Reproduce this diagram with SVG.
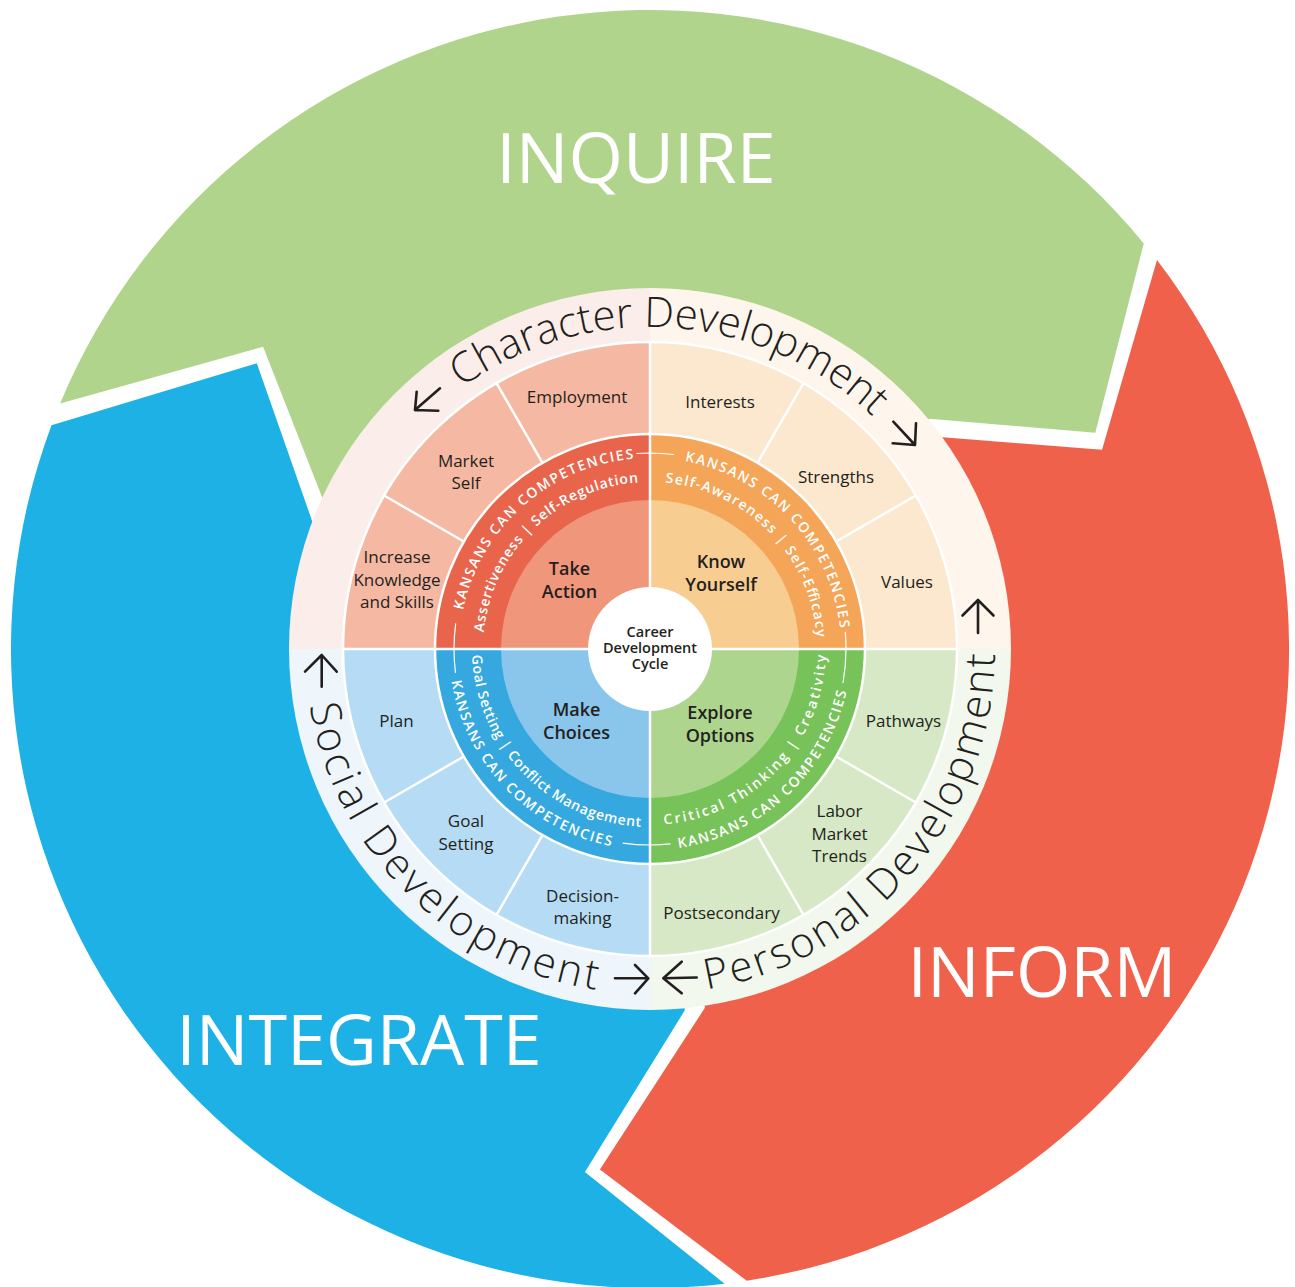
<svg xmlns="http://www.w3.org/2000/svg" width="1295" height="1287" viewBox="0 0 1295 1287">
<style>
text{font-family:"Open Sans","Noto Sans","Liberation Sans",sans-serif}
.big{font-size:70px;fill:#fff;text-anchor:middle}
.seg{font-size:17px;fill:#231F20;text-anchor:middle}
.hub{font-size:18px;font-weight:600;fill:#231F20;text-anchor:middle}
.core{font-size:14.5px;font-weight:600;fill:#231F20;text-anchor:middle}
.ring{font-size:42px;font-weight:300;fill:#231F20;text-anchor:middle}
.comp{font-size:14px;font-weight:600;fill:#fff;text-anchor:middle}
.div{stroke:#fff;stroke-width:2.5;fill:none}
.thin{stroke:#fff;stroke-width:1.2;fill:none}
.arr{stroke:#231F20;stroke-width:2.6;fill:none;stroke-linecap:round;stroke-linejoin:round}
</style>
<defs>
<path id="pChar" d="M383.05,468.94 A322,322 0 0 1 939.41,507.84"/>
<path id="pSocial" d="M316.45,560.87 A345,345 0 0 0 740.46,981.93"/>
<path id="pPersonal" d="M585.94,988.0 A345,345 0 0 0 975.61,534.97"/>
<path id="oTL" d="M462.9,687.4 A191,191 0 0 1 710.3,467.8"/>
<path id="oTR" d="M607.4,462.8 A191,191 0 0 1 832.6,705.2"/>
<path id="oBR" d="M591.2,841.2 A201,201 0 0 0 845.8,603.8"/>
<path id="oBL" d="M456.8,593.6 A201,201 0 0 0 698.6,844.0"/>
<path id="iTL" d="M488.1,690.0 A167,167 0 0 1 695.5,488.3"/>
<path id="iTR" d="M608.5,487.2 A167,167 0 0 1 810.8,693.9"/>
<path id="iBL" d="M478.5,601.4 A178,178 0 0 0 694.6,821.3"/>
<path id="iBR" d="M608.3,820.0 A176,176 0 0 0 818.9,599.6"/>
</defs>

<g id="inquire">
<path fill="#B0D48B" d="M60.1,403.4 A639,639 0 0 1 1143.8,243.4 L1095.3,432.8 L929.4,418.7 L920.1,426.3 A350,350 0 0 0 331.5,503.9 L323.3,500.2 L263.1,346.7 Z"/>
<text class="big" x="636" y="183">INQUIRE</text>
</g>
<g id="inform">
<path fill="#F0614C" d="M1157.0,260.0 A639,639 0 0 1 746.7,1280.7 L599.9,1169.6 L704.9,1007.8 L703.0,995.0 A350,350 0 0 0 932.4,442.3 L939.7,437.0 L1102.0,449.7 Z"/>
<text class="big" x="1042" y="997">INFORM</text>
</g>
<g id="integrate">
<path fill="#1EB1E6" d="M724.6,1283.7 A639,639 0 0 1 51.5,425.2 L256.8,363.3 L312.8,522.9 L322.2,526.4 A350,350 0 0 0 683.5,997.4 L684.8,1010.3 L584.9,1171.9 Z"/>
<text class="big" x="359" y="1065">INTEGRATE</text>
</g>

<g id="take-action">
<path fill="#FBEEEA" d="M650,649 L289,649 A361,361 0 0 1 650,288 Z"/>
<path fill="#F5B8A2" d="M650,649 L343,649 A307,307 0 0 1 650,342 Z"/>
<path fill="#E8654C" d="M650,649 L435,649 A215,215 0 0 1 650,434 Z"/>
<path fill="#F0967B" d="M650,649 L501,649 A149,149 0 0 1 650,500 Z"/>
</g>
<g id="know-yourself">
<path fill="#FEF6EC" d="M650,649 L650,288 A361,361 0 0 1 1011,649 Z"/>
<path fill="#FBE8CE" d="M650,649 L650,342 A307,307 0 0 1 957,649 Z"/>
<path fill="#F4A557" d="M650,649 L650,434 A215,215 0 0 1 865,649 Z"/>
<path fill="#F8CD92" d="M650,649 L650,500 A149,149 0 0 1 799,649 Z"/>
</g>
<g id="explore-options">
<path fill="#F2F8EE" d="M650,649 L1011,649 A361,361 0 0 1 650,1010 Z"/>
<path fill="#D7E8C6" d="M650,649 L957,649 A307,307 0 0 1 650,956 Z"/>
<path fill="#78C25A" d="M650,649 L865,649 A215,215 0 0 1 650,864 Z"/>
<path fill="#AED58E" d="M650,649 L799,649 A149,149 0 0 1 650,798 Z"/>
</g>
<g id="make-choices">
<path fill="#EEF6FB" d="M650,649 L650,1010 A361,361 0 0 1 289,649 Z"/>
<path fill="#B5DCF4" d="M650,649 L650,956 A307,307 0 0 1 343,649 Z"/>
<path fill="#35A8E0" d="M650,649 L650,864 A215,215 0 0 1 435,649 Z"/>
<path fill="#8AC5EC" d="M650,649 L650,798 A149,149 0 0 1 501,649 Z"/>
</g>

<g id="dividers">
<circle class="div" cx="650" cy="649" r="307"/>
<circle class="div" cx="650" cy="649" r="215"/>
<path class="div" d="M836.2,756.5 L915.9,802.5 M757.5,835.2 L803.5,914.9 M542.5,835.2 L496.5,914.9 M463.8,756.5 L384.1,802.5 M463.8,541.5 L384.1,495.5 M542.5,462.8 L496.5,383.1 M757.5,462.8 L803.5,383.1 M836.2,541.5 L915.9,495.5"/>
<path class="div" stroke-width="3" d="M343,649 L957,649 M650,342 L650,956"/>
<path class="thin" d="M454,649 A196,196 0 0 1 455.7,623.4 M636.3,453.5 A196,196 0 0 1 650,453 M650,453 A196,196 0 0 1 673.9,454.5 M845.3,631.9 A196,196 0 0 1 846,649 M846,649 A196,196 0 0 1 843.0,683.0 M670.5,843.9 A196,196 0 0 1 650,845 M650,845 A196,196 0 0 1 622.7,843.1 M455.5,672.9 A196,196 0 0 1 454,649"/>
</g>

<g id="center">
<circle cx="650" cy="649" r="62" fill="#fff"/>
<text class="core" x="650" y="637">Career</text>
<text class="core" x="650" y="653">Development</text>
<text class="core" x="650" y="669">Cycle</text>
</g>

<g id="hub-labels">
<text class="hub" x="569.5" y="575">Take</text>
<text class="hub" x="569.5" y="598">Action</text>
<text class="hub" x="721" y="568">Know</text>
<text class="hub" x="721" y="591">Yourself</text>
<text class="hub" x="576.5" y="716">Make</text>
<text class="hub" x="576.5" y="739">Choices</text>
<text class="hub" x="720" y="719">Explore</text>
<text class="hub" x="720" y="742">Options</text>
</g>

<g id="competencies">
<text class="comp"><textPath href="#oTL" startOffset="50%" textLength="244" lengthAdjust="spacing">KANSANS CAN COMPETENCIES</textPath></text>
<text class="comp"><textPath href="#oTR" startOffset="50%" textLength="244" lengthAdjust="spacing">KANSANS CAN COMPETENCIES</textPath></text>
<text class="comp"><textPath href="#oBR" startOffset="50%" textLength="244" lengthAdjust="spacing">KANSANS CAN COMPETENCIES</textPath></text>
<text class="comp"><textPath href="#oBL" startOffset="50%" textLength="244" lengthAdjust="spacing">KANSANS CAN COMPETENCIES</textPath></text>
<text class="comp"><textPath href="#iTL" startOffset="50%" textLength="234" lengthAdjust="spacing">Assertiveness | Self-Regulation</textPath></text>
<text class="comp"><textPath href="#iTR" startOffset="50%" textLength="235" lengthAdjust="spacing">Self-Awareness | Self-Efficacy</textPath></text>
<text class="comp"><textPath href="#iBL" startOffset="50%" textLength="264" lengthAdjust="spacing">Goal Setting | Conflict Management</textPath></text>
<text class="comp"><textPath href="#iBR" startOffset="50%" textLength="256" lengthAdjust="spacing">Critical Thinking | Creativity</textPath></text>
</g>

<g id="segments">
<text class="seg" x="577" y="403">Employment</text>
<text class="seg" x="466" y="467">Market</text>
<text class="seg" x="466" y="489">Self</text>
<text class="seg" x="397" y="563">Increase</text>
<text class="seg" x="397" y="585.5">Knowledge</text>
<text class="seg" x="397" y="608">and Skills</text>
<text class="seg" x="720" y="408">Interests</text>
<text class="seg" x="836" y="483">Strengths</text>
<text class="seg" x="907" y="588">Values</text>
<text class="seg" x="396.5" y="727">Plan</text>
<text class="seg" x="466" y="827">Goal</text>
<text class="seg" x="466" y="850">Setting</text>
<text class="seg" x="582.5" y="902">Decision-</text>
<text class="seg" x="582.5" y="924">making</text>
<text class="seg" x="721.5" y="919">Postsecondary</text>
<text class="seg" x="839.5" y="817">Labor</text>
<text class="seg" x="839.5" y="839.5">Market</text>
<text class="seg" x="839.5" y="862">Trends</text>
<text class="seg" x="903.5" y="727">Pathways</text>
</g>

<g id="ring-labels">
<text class="ring"><textPath href="#pChar" startOffset="50%" textLength="447" lengthAdjust="spacing">Character Development</textPath></text>
<text class="ring"><textPath href="#pSocial" startOffset="50%" textLength="431" lengthAdjust="spacing">Social Development</textPath></text>
<text class="ring"><textPath href="#pPersonal" startOffset="50%" textLength="480" lengthAdjust="spacing">Personal Development</textPath></text>
</g>

<g id="connectors">
<path class="arr" d="M440,388.3 L415,410 M416.7,391.7 L415,410 L438.3,410.7"/>
<path class="arr" d="M893.3,421.7 L915,445 M916,423.3 L915,445 L892.7,443.3"/>
<path class="arr" d="M978,633 L978,600 M962.5,615.5 L978,600 L993.5,615.5"/>
<path class="arr" d="M321.7,686.7 L321.7,655 M305,671.7 L321.7,655 L336.7,671.7"/>
<path class="arr" d="M615,978.3 L648.3,978.3 M635,965 L648.3,978.3 L635,993.3"/>
<path class="arr" d="M696.7,977.5 L663.3,978.3 M681.7,961.7 L663.3,978.3 L681.7,993.3"/>
</g>
</svg>
